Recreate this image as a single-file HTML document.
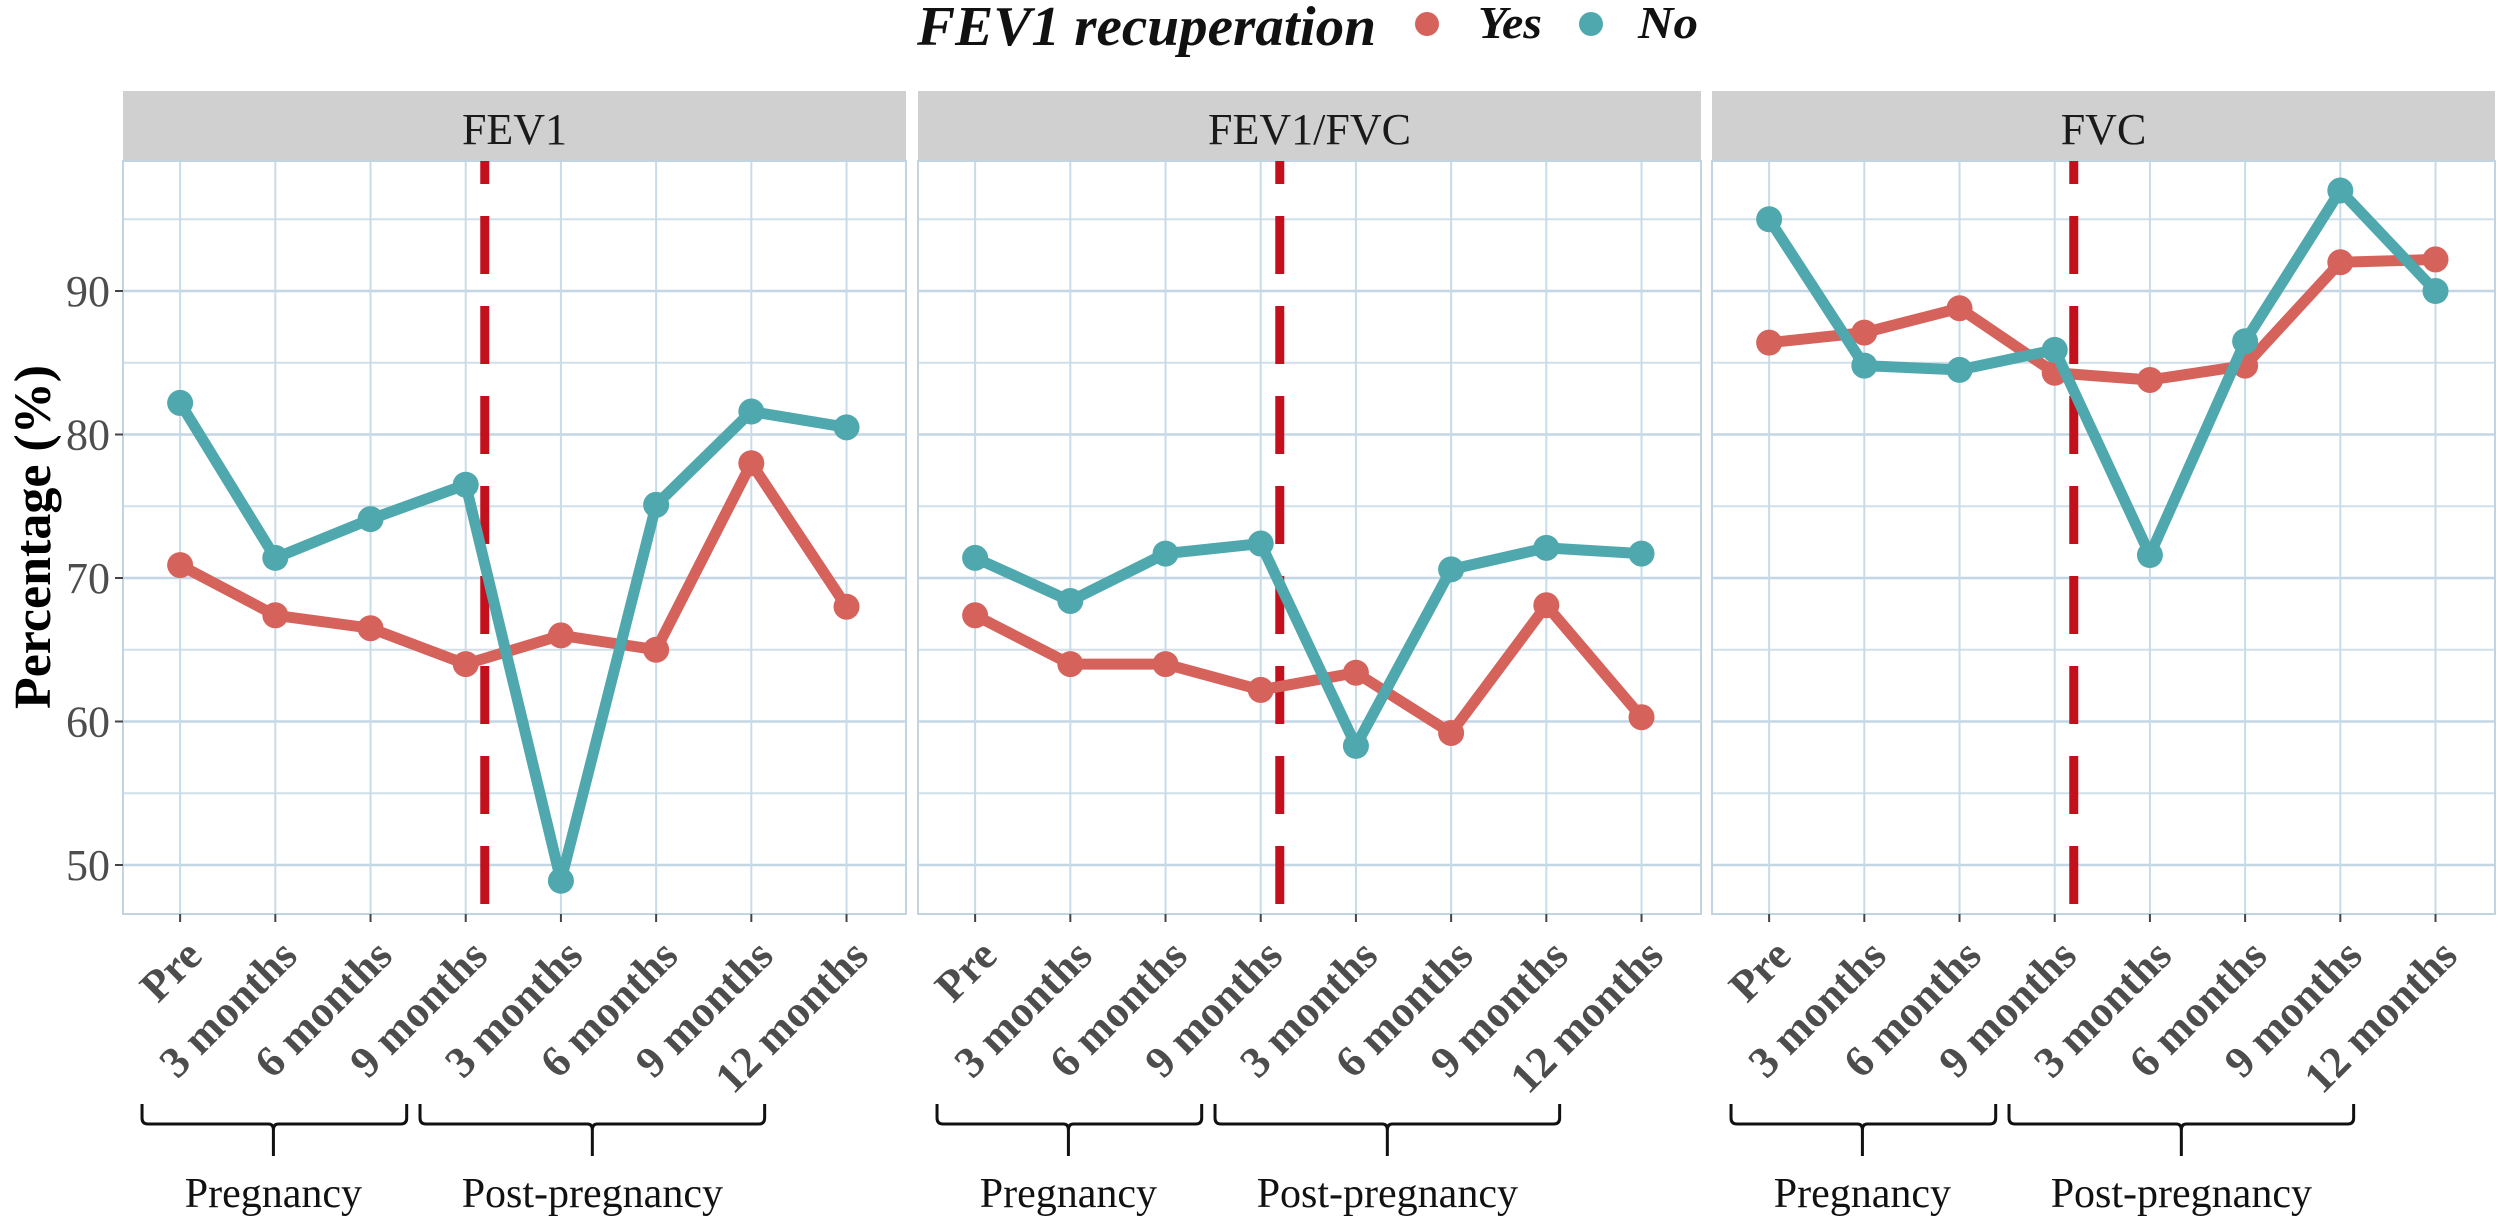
<!DOCTYPE html>
<html><head><meta charset="utf-8"><style>
html,body{margin:0;padding:0;background:#fff;}
svg{display:block;font-family:"Liberation Serif",serif;}
</style></head><body>
<svg id="chart" width="2508" height="1226" viewBox="0 0 2508 1226" xmlns="http://www.w3.org/2000/svg">
<g>
<text x="917" y="45" font-size="56" font-weight="bold" font-style="italic" fill="#111" textLength="459" lengthAdjust="spacingAndGlyphs">FEV1 recuperation</text>
<circle cx="1427" cy="24" r="12" fill="#d6625c"/>
<text x="1478" y="38" font-size="46" font-weight="bold" font-style="italic" fill="#111" textLength="64" lengthAdjust="spacingAndGlyphs">Yes</text>
<circle cx="1591" cy="24" r="12" fill="#4fa8ae"/>
<text x="1638" y="38" font-size="46" font-weight="bold" font-style="italic" fill="#111" textLength="60" lengthAdjust="spacingAndGlyphs">No</text>
</g>
<text transform="translate(50,537) rotate(-90)" text-anchor="middle" font-size="52" font-weight="bold" fill="#000">Percentage (%)</text>
<g id="panels"></g>
</svg>
<script>
const categories = ["Pre","3 months","6 months","9 months","3 months","6 months","9 months","12 months"];
const panelTitles = ["FEV1","FEV1/FVC","FVC"];
const yesFEV1 = [70.9,67.4,66.5,64.0,66.0,65.0,78.0,68.0];
const noFEV1 = [82.2,71.4,74.1,76.5,48.9,75.1,81.6,80.5];
const yesRatio = [67.4,64.0,64.0,62.2,63.4,59.2,68.1,60.3];
const noRatio = [71.4,68.4,71.7,72.4,58.3,70.6,72.1,71.7];
const yesFVC = [86.4,87.1,88.8,84.3,83.8,84.8,92.0,92.2];
const noFVC = [95.0,84.8,84.5,85.9,71.6,86.5,97.0,90.0];
const yTicks = [50,60,70,80,90];
const yMinor = [55,65,75,85,95];
const dividerPosition = 3.2;
const groups = ["Pregnancy","Post-pregnancy"];
const groupStart = [-0.4, 2.52];
const groupEnd = [2.38, 6.14];
const groupMid = [0.98, 4.33];

const NS="http://www.w3.org/2000/svg";
const svg=document.getElementById('panels');
const panelLefts=[123,918,1712], PW=783, PT=161, PB=914;
const STEP=95.2, OFF=0.6*STEP;
const yScale=v=>865-(v-50)*14.35;
const mk=(t,a,p)=>{const e=document.createElementNS(NS,t);for(const k in a)e.setAttribute(k,a[k]);(p||svg).appendChild(e);return e;};
const seriesData=[[yesFEV1,noFEV1],[yesRatio,noRatio],[yesFVC,noFVC]];
const colors=["#d6625c","#4fa8ae"];
const seriesNames=["yes","no"];

panelLefts.forEach((L,pi)=>{
  const xs=i=>L+OFF+i*STEP;
  const g=mk('g',{});
  
  
  const strip=mk('rect',{x:L,y:91,width:PW,height:70,fill:'#d0d0d0'},g);
  
  
  const st=mk('text',{x:L+PW/2,y:144,'text-anchor':'middle','font-size':44,fill:'#1a1a1a'},g);
  st.textContent=panelTitles[pi];
  
  
  const bg=mk('rect',{x:L,y:PT,width:PW,height:PB-PT,fill:'#fff'},g);
  
  
  yMinor.forEach(v=>{const y=yScale(v);if(y>PT&&y<PB){const l=mk('line',{x1:L,x2:L+PW,y1:y,y2:y,stroke:'#cfe0ea','stroke-width':2},g);}});
  yTicks.forEach(v=>{const y=yScale(v);const l=mk('line',{x1:L,x2:L+PW,y1:y,y2:y,stroke:'#c2d6e3','stroke-width':2.5},g);});
  categories.forEach((c,i)=>{const l=mk('line',{x1:xs(i),x2:xs(i),y1:PT,y2:PB,stroke:'#c8dbe8','stroke-width':2},g);});
  const br=mk('rect',{x:L,y:PT,width:PW,height:PB-PT,fill:'none',stroke:'#c2d4df','stroke-width':2},g);
  
  
  if(pi===0){
    yTicks.forEach(v=>{const y=yScale(v);
      const tk=mk('line',{x1:L-8,x2:L,y1:y,y2:y,stroke:'#444','stroke-width':2},g);
      
      
      const t=mk('text',{x:L-13,y:y+15,'text-anchor':'end','font-size':44,fill:'#4d4d4d'},g);t.textContent=v;
      
      });
  }
  categories.forEach((c,i)=>{
    const tk=mk('line',{x1:xs(i),x2:xs(i),y1:PB,y2:PB+8,stroke:'#444','stroke-width':2},g);
    
    
    const ax=xs(i)+24, ay=958;
    const t=mk('text',{x:ax,y:ay,'text-anchor':'end','font-size':44,'font-weight':'bold',fill:'#4d4d4d',transform:`rotate(-45 ${ax} ${ay})`},g);
    t.textContent=c;
    
    
  });
  const dx=xs(dividerPosition);
  const dl=mk('line',{x1:dx,x2:dx,y1:PT,y2:PB,stroke:'#c4101c','stroke-width':9,'stroke-dasharray':'58 32','stroke-dashoffset':35},g);
  
  
  seriesData[pi].forEach((vals,si)=>{
    const pts=vals.map((v,i)=>xs(i)+','+yScale(v)).join(' ');
    const pl=mk('polyline',{points:pts,fill:'none',stroke:colors[si],'stroke-width':11,'stroke-linejoin':'round'},g);
    
    
    vals.forEach((v,i)=>{const c=mk('circle',{cx:xs(i),cy:yScale(v),r:13,fill:colors[si]},g);
      
      });
  });
  groups.forEach((gn,gi)=>{
    const x1=xs(groupStart[gi]), x2=xs(groupEnd[gi]), xm=xs(groupMid[gi]);
    const d=`M${x1},1104 L${x1},1118 Q${x1},1124 ${x1+6},1124 L${xm-5},1124 Q${xm},1124 ${xm},1130 L${xm},1156 M${xm},1130 Q${xm},1124 ${xm+5},1124 L${x2-6},1124 Q${x2},1124 ${x2},1118 L${x2},1104`;
    const p=mk('path',{d:d,fill:'none',stroke:'#111','stroke-width':3},g);
    
    
    const t=mk('text',{x:xm,y:1207,'text-anchor':'middle','font-size':42,fill:'#111'},g);
    t.textContent=gn;
    
    
  });
});
</script>
</body></html>
